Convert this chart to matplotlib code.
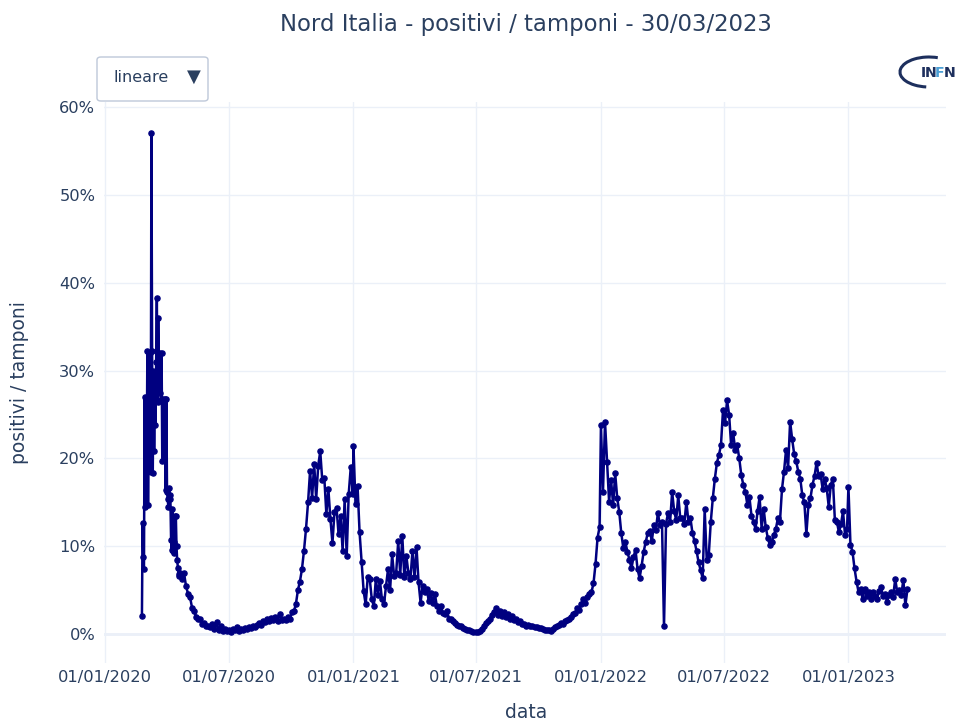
import numpy as np
import matplotlib
matplotlib.use('Agg')
from matplotlib import pyplot as plt
import matplotlib.dates as mdates
from matplotlib.patches import FancyBboxPatch, Arc

# positivi / tamponi (%) - Nord Italia

# daily values, 24/02/2020 -> 20/04/2020
early_vals = [2.1, 12.7, 8.8, 7.4, 27.0, 14.5, 24.0, 18.5, 32.2, 14.7,
	25.0, 21.0, 32.0, 18.5, 57.0, 32.2, 18.4, 30.0, 20.9, 27.5,
	23.8, 31.0, 38.2, 26.4, 36.0, 30.0, 27.5, 32.0, 26.6, 32.0,
	19.7, 26.8, 22.9, 19.8, 26.8, 16.4, 26.8, 16.2, 15.4, 14.5,
	16.6, 15.8, 15.4, 10.7, 9.6, 14.3, 9.5, 10.5, 9.3, 13.5,
	13.5, 10.0, 8.4, 7.6, 6.9, 6.6, 7.0]

# every 3 days from 23/04/2020
vals_2020 = [6.3, 7.0, 5.5, 4.6, 4.2, 3.0, 2.6, 2.0, 1.7, 1.8,
	1.2, 1.3, 1.0, 1.0, 0.8, 1.2, 0.6, 1.4, 0.5, 0.9,
	0.4, 0.6, 0.4, 0.5, 0.3, 0.6, 0.5, 0.8, 0.4, 0.6,
	0.5, 0.7, 0.6, 0.8, 0.7, 0.9, 0.8, 1.1, 1.3, 1.1,
	1.5, 1.4, 1.7, 1.5, 1.9, 1.6, 2.0, 1.5, 2.3, 1.6,
	1.8, 1.6, 2.0, 1.7, 2.5, 2.6, 3.4, 5.0, 6.0, 7.4,
	9.5, 12.0, 15.0, 18.6, 15.5, 19.4, 15.4, 19.2, 20.8, 17.5,
	17.8, 13.7, 16.5, 13.1, 10.4, 13.9, 14.4, 11.4, 13.5, 9.5,
	15.4, 8.9, 16.0, 19.0, 16.0]

# every 3 days from 01/01/2021
vals_2021 = [21.4, 14.8, 16.9, 11.6, 8.2, 4.9, 3.4, 6.5, 6.3, 4.0,
	3.2, 6.3, 4.5, 6.1, 4.0, 3.4, 5.5, 7.4, 5.0, 9.1,
	6.6, 7.0, 10.6, 6.8, 11.2, 6.5, 8.9, 7.0, 6.3, 9.5,
	6.5, 9.9, 5.9, 3.6, 5.5, 4.8, 5.2, 3.8, 4.7, 3.6,
	4.6, 3.2, 2.7, 3.2, 2.4, 2.3, 2.6, 1.8, 1.7, 1.5,
	1.3, 1.1, 0.9, 0.9, 0.7, 0.6, 0.5, 0.5, 0.4, 0.3,
	0.3, 0.3, 0.4, 0.6, 0.9, 1.3, 1.5, 1.8, 2.2, 2.5,
	3.0, 2.2, 2.6, 2.1, 2.5, 2.0, 2.3, 1.8, 2.1, 1.6,
	1.7, 1.4, 1.5, 1.2, 1.2, 1.0, 1.1, 0.9, 0.9, 0.8,
	0.8, 0.7, 0.7, 0.6, 0.5, 0.5, 0.5, 0.4, 0.6, 0.8,
	0.9, 1.1, 1.3, 1.2, 1.5, 1.6, 1.8, 2.0, 2.3, 2.4,
	3.0, 2.8, 3.5, 4.0, 3.6, 4.3, 4.6, 4.8, 5.8, 8.0,
	11.0, 12.2]

# every 3 days from 01/01/2022
vals_2022 = [23.8, 16.2, 24.2, 19.6, 15.1, 17.5, 14.7, 18.3, 15.5, 13.9,
	11.5, 9.8, 10.5, 9.4, 8.5, 7.5, 8.8, 9.6, 7.4, 6.4,
	7.8, 9.4, 10.5, 11.5, 11.8, 10.6, 12.4, 11.9, 13.8, 12.4,
	12.8, 0.9, 12.6, 13.8, 12.8, 16.2, 14.0, 13.0, 15.8, 13.2,
	13.2, 12.6, 15.1, 12.8, 13.2, 11.5, 10.6, 9.5, 8.2, 7.3,
	6.4, 14.2, 8.5, 9.0, 12.8, 15.5, 17.7, 19.5, 20.4, 21.5,
	25.5, 24.0, 26.6, 25.0, 21.5, 22.9, 21.0, 21.5, 20.0, 18.1,
	17.0, 16.2, 14.7, 15.6, 13.5, 12.8, 12.0, 14.0, 15.6, 12.0,
	14.3, 12.2, 11.0, 10.2, 10.5, 11.3, 12.0, 13.2, 12.8, 16.5,
	18.5, 21.0, 18.9, 24.2, 22.2, 20.5, 19.7, 18.5, 17.7, 15.8,
	15.0, 11.4, 14.7, 15.5, 17.0, 18.0, 19.5, 18.0, 18.2, 16.5,
	17.7, 16.6, 14.5, 17.0, 17.7, 13.0, 12.8, 11.6, 12.5, 14.0,
	11.3, 12.0]

# every 3 days from 01/01/2023
vals_2023 = [16.8, 10.2, 9.4, 7.5, 6.0, 4.8, 5.2, 4.0, 5.2, 4.4,
	4.8, 4.0, 4.8, 4.4, 4.0, 4.9, 5.4, 4.4, 4.6, 3.7,
	4.5, 4.8, 4.3, 6.3, 4.8, 5.0, 4.5, 6.2, 3.3, 5.1]

tick_dates = ['2020-01-01', '2020-07-01', '2021-01-01', '2021-07-01',
	'2022-01-01', '2022-07-01', '2023-01-01']
y_ticks = [0, 10, 20, 30, 40, 50, 60]

TXT = '#2a3f5f'
GRID = '#ebf0f8'

def days(start, n, step):
	return np.datetime64(start) + step * np.arange(n)

dates = np.concatenate([
	days('2020-02-24', len(early_vals), 1),
	days('2020-04-23', len(vals_2020), 3),
	days('2021-01-01', len(vals_2021), 3),
	days('2022-01-01', len(vals_2022), 3),
	days('2023-01-01', len(vals_2023), 3),
])
values = np.array(early_vals + vals_2020 + vals_2021 + vals_2022 + vals_2023)

fig = plt.figure(figsize=(9.58, 7.28), dpi=100)
ax = fig.add_axes([104.3 / 958, 1 - 663 / 728, 842.1 / 958, 561.5 / 728])

ax.plot(dates, values, color='navy', lw=1.8, marker='o', ms=3.7, zorder=3)

# axes ranges (plotly style autorange padding)
ax.set_xlim(np.datetime64('2019-12-30T12'), np.datetime64('2023-05-25T12'))
ax.set_ylim(-3.26, 60.6)

ax.set_xticks([np.datetime64(d) for d in tick_dates])
ax.xaxis.set_major_formatter(mdates.DateFormatter('%d/%m/%Y'))
ax.set_yticks(y_ticks)
ax.set_yticklabels(['%d%%' % v for v in y_ticks])

ax.grid(True, color=GRID, lw=1.0, zorder=0)
ax.axhline(0, color=GRID, lw=2.0, zorder=1)
for s in ax.spines.values():
	s.set_visible(False)
ax.tick_params(axis='both', length=0, labelsize=11.7, colors=TXT)
ax.tick_params(axis='y', pad=6.5)
ax.tick_params(axis='x', pad=5)

# titles
fig.text(0.549, 1 - 25 / 728, 'Nord Italia - positivi / tamponi - 30/03/2023',
	ha='center', va='center', fontsize=16.4, color=TXT)
fig.text(0.549, 1 - 713 / 728, 'data', ha='center', va='center', fontsize=13.5, color=TXT)
fig.text(20 / 958, 1 - 383 / 728, 'positivi / tamponi', ha='center', va='center',
	rotation=90, fontsize=13.5, color=TXT)

# dropdown button
btn = FancyBboxPatch((97 / 958, 1 - 101 / 728), 111 / 958, 44 / 728,
	boxstyle='round,pad=0,rounding_size=0.004', transform=fig.transFigure,
	facecolor='white', edgecolor='#bec8d9', lw=1.0)
fig.patches.append(btn)
fig.text(141 / 958, 1 - 78 / 728, 'lineare', ha='center', va='center', fontsize=11.5, color=TXT)
fig.text(194 / 958, 1 - 77 / 728, '\u25bc', ha='center', va='center', fontsize=13, color=TXT)

# INFN logo
arc = Arc((929 / 958, 1 - 72 / 728), 58 / 958, 30 / 728, theta1=65, theta2=262,
	transform=fig.transFigure, color='#1d2f5d', lw=2.2)
fig.patches.append(arc)
logo_x = [920.5, 924.5, 935.2, 943.3]
logo_c = ['#1d2f5d', '#1d2f5d', '#4a9fd5', '#1d2f5d']
for lx, ch, cc in zip(logo_x, 'INFN', logo_c):
	fig.text(lx / 958, 1 - 73 / 728, ch, ha='left', va='center', fontsize=10.2,
		fontweight='semibold', color=cc)

fig.savefig('out.png', dpi=100)
